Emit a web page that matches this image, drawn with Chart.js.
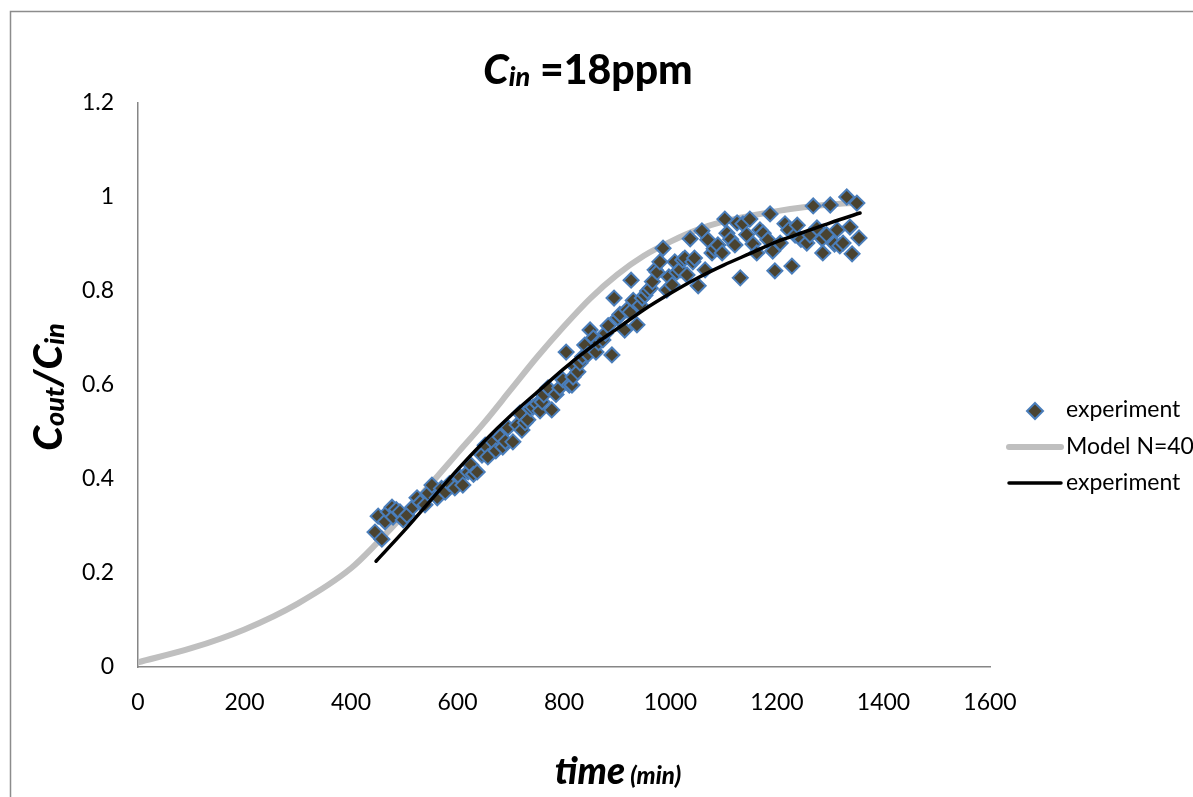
<!DOCTYPE html>
<html>
<head>
<meta charset="utf-8">
<script src="https://cdn.jsdelivr.net/npm/chart.js@4"></script>
<style>
  html, body { margin: 0; padding: 0; background: #fff; }
  #wrap { width: 1193px; height: 797px; }
</style>
</head>
<body>
<div id="wrap"><canvas id="breakthrough-chart"></canvas></div>
<script>
// measured points (time in min, Cout/Cin)
const expTime = [445, 451, 458, 464, 470, 477, 479, 485, 492, 498, 505, 516, 524, 530, 539, 545, 552, 562, 570, 577, 585, 595, 605, 610, 620, 625, 630, 637, 646, 652, 657, 667, 672, 680, 685, 690, 695, 704, 712, 717, 721, 727, 732, 737, 742, 750, 755, 759, 762, 770, 777, 785, 792, 798, 804, 810, 815, 817, 820, 826, 830, 835, 839, 845, 849, 855, 860, 865, 873, 878, 883, 890, 894, 901, 905, 914, 918, 924, 926, 930, 937, 943, 947, 952, 957, 962, 966, 971, 975, 980, 986, 993, 997, 1003, 1008, 1012, 1018, 1023, 1027, 1031, 1037, 1042, 1045, 1052, 1059, 1065, 1070, 1078, 1082, 1089, 1097, 1102, 1106, 1113, 1121, 1125, 1131, 1136, 1143, 1149, 1155, 1162, 1168, 1174, 1183, 1187, 1192, 1196, 1206, 1215, 1222, 1228, 1234, 1238, 1245, 1256, 1262, 1268, 1275, 1285, 1286, 1293, 1300, 1308, 1313, 1318, 1324, 1331, 1337, 1341, 1350, 1354]
const expValue = [0.287, 0.321, 0.272, 0.309, 0.330, 0.340, 0.319, 0.335, 0.330, 0.313, 0.323, 0.340, 0.360, 0.350, 0.345, 0.370, 0.387, 0.360, 0.380, 0.372, 0.390, 0.381, 0.404, 0.387, 0.415, 0.430, 0.410, 0.415, 0.451, 0.472, 0.447, 0.479, 0.460, 0.490, 0.468, 0.480, 0.509, 0.479, 0.515, 0.540, 0.504, 0.520, 0.526, 0.550, 0.553, 0.560, 0.545, 0.564, 0.579, 0.594, 0.547, 0.580, 0.594, 0.611, 0.670, 0.600, 0.600, 0.617, 0.640, 0.628, 0.647, 0.660, 0.685, 0.665, 0.717, 0.700, 0.670, 0.690, 0.696, 0.710, 0.726, 0.664, 0.785, 0.743, 0.750, 0.717, 0.760, 0.755, 0.823, 0.780, 0.728, 0.770, 0.785, 0.791, 0.800, 0.806, 0.820, 0.845, 0.840, 0.862, 0.891, 0.802, 0.830, 0.813, 0.862, 0.840, 0.845, 0.866, 0.870, 0.834, 0.911, 0.862, 0.870, 0.811, 0.928, 0.845, 0.909, 0.881, 0.890, 0.898, 0.881, 0.953, 0.923, 0.910, 0.898, 0.945, 0.828, 0.943, 0.920, 0.953, 0.900, 0.881, 0.930, 0.923, 0.909, 0.964, 0.885, 0.843, 0.902, 0.943, 0.930, 0.853, 0.919, 0.940, 0.910, 0.902, 0.919, 0.981, 0.934, 0.911, 0.881, 0.920, 0.983, 0.900, 0.930, 0.896, 0.902, 1.000, 0.936, 0.879, 0.987, 0.913]

// model curve N=40
const modelTime = [0, 100, 200, 300, 400, 450, 500, 550, 600, 650, 700, 750, 800, 850, 900, 950, 1000, 1050, 1100, 1150, 1200, 1250, 1300, 1350]
const modelValue = [0.01, 0.04, 0.08, 0.135, 0.21, 0.265, 0.325, 0.39, 0.455, 0.52, 0.59, 0.66, 0.725, 0.785, 0.835, 0.875, 0.905, 0.93, 0.948, 0.96, 0.97, 0.978, 0.984, 0.988]

// fitted line through the experiment
const fitTime = [447, 500, 550, 600, 650, 700, 750, 800, 850, 900, 950, 1000, 1050, 1100, 1150, 1200, 1250, 1300, 1356]
const fitValue = [0.225, 0.29, 0.355, 0.42, 0.48, 0.535, 0.585, 0.635, 0.68, 0.72, 0.76, 0.795, 0.827, 0.855, 0.88, 0.905, 0.925, 0.945, 0.966]

const legendLabels = ["experiment", "Model N=40", "experiment"]

const toXY = (xs, ys) => xs.map((x, i) => ({ x: x, y: ys[i] }))

const FONT = "Lato"

function drawMixed(ctx, parts, x, y, align) {
    // parts: [text, size, style, dy]
    let total = 0
    parts.forEach(p => {
        ctx.font = p[2] + " " + p[1] + "px " + FONT
        total += ctx.measureText(p[0]).width
    })
    let cx = align === "center" ? x - total / 2 : x
    parts.forEach(p => {
        ctx.font = p[2] + " " + p[1] + "px " + FONT
        ctx.fillText(p[0], cx, y + (p[3] || 0))
        cx += ctx.measureText(p[0]).width
    })
}

const decorPlugin = {
    id: "decor",
    afterDraw(chart) {
        const ctx = chart.ctx
        ctx.save()
        // chart frame
        ctx.strokeStyle = "#8c8c8c"
        ctx.lineWidth = 1.5
        ctx.strokeRect(10.5, 11.5, 1300, 900)

        ctx.fillStyle = "#000"
        ctx.textBaseline = "alphabetic"
        // title
        drawMixed(ctx, [
            ["C", 41, "italic 900", 0],
            ["in", 27, "italic 900", 2],
            [" =18ppm", 41, "900", 0]
        ], 588, 84, "center")

        // x title
        drawMixed(ctx, [
            ["time", 37, "italic 900", 0],
            [" (min)", 24, "italic 900", 0]
        ], 618, 784, "center")

        // y title
        ctx.translate(62, 387)
        ctx.rotate(-Math.PI / 2)
        drawMixed(ctx, [
            ["C", 40, "italic 900", 0],
            ["out", 27, "italic 900", 2],
            ["/C", 40, "italic 900", 0],
            ["in", 27, "italic 900", 2]
        ], 0, 0, "center")
        ctx.setTransform(1, 0, 0, 1, 0, 0)

        // legend
        ctx.font = "23px " + FONT
        ctx.textBaseline = "middle"
        // diamond marker
        ctx.beginPath()
        ctx.moveTo(1035, 403)
        ctx.lineTo(1043, 411)
        ctx.lineTo(1035, 419)
        ctx.lineTo(1027, 411)
        ctx.closePath()
        ctx.fillStyle = "#4a4330"
        ctx.fill()
        ctx.strokeStyle = "#4a7ebb"
        ctx.lineWidth = 2
        ctx.stroke()
        ctx.fillStyle = "#000"
        ctx.fillText(legendLabels[0], 1066, 410)

        ctx.strokeStyle = "#bfbfbf"
        ctx.lineWidth = 6
        ctx.lineCap = "round"
        ctx.beginPath(); ctx.moveTo(1009, 447); ctx.lineTo(1061, 447); ctx.stroke()
        ctx.fillText(legendLabels[1], 1066, 447)

        ctx.strokeStyle = "#000"
        ctx.lineWidth = 3.5
        ctx.beginPath(); ctx.moveTo(1009, 483); ctx.lineTo(1061, 483); ctx.stroke()
        ctx.fillText(legendLabels[2], 1066, 483)
        ctx.restore()
    }
}

const ctx = document.getElementById("breakthrough-chart")

const MyChart = new Chart(ctx, {
    type: "scatter",
    data: {
        datasets: [{
            label: legendLabels[0],
            data: toXY(expTime, expValue),
            pointStyle: "rectRot",
            pointRadius: 7.5,
            backgroundColor: "#4a4330",
            borderColor: "#4a7ebb",
            borderWidth: 2,
            order: 1
        }, {
            label: legendLabels[1],
            data: toXY(modelTime, modelValue),
            showLine: true,
            borderColor: "#bfbfbf",
            borderWidth: 6,
            pointRadius: 0,
            cubicInterpolationMode: "monotone",
            order: 2
        }, {
            label: legendLabels[2],
            data: toXY(fitTime, fitValue),
            showLine: true,
            borderColor: "#000",
            borderWidth: 3.5,
            borderCapStyle: "round",
            pointRadius: 0,
            cubicInterpolationMode: "monotone",
            order: 0
        }]
    },
    options: {
        responsive: true,
        maintainAspectRatio: false,
        animation: false,
        layout: { padding: { left: 0, top: 103, right: 203, bottom: 0 } },
        plugins: {
            legend: { display: false },
            tooltip: { enabled: false }
        },
        scales: {
            x: {
                min: 0,
                max: 1600,
                ticks: {
                    stepSize: 200, padding: 22, color: "#000",
                    font: { family: FONT, size: 23 },
                    callback: (v) => String(v)
                },
                grid: { display: false, drawTicks: false },
                border: { display: true, color: "#868686", width: 1.5 },
                afterFit: (scale) => { scale.height = 130 }
            },
            y: {
                min: 0,
                max: 1.2,
                ticks: {
                    stepSize: 0.2, padding: 24, color: "#000",
                    font: { family: FONT, size: 23 },
                    callback: (v) => String(+v.toFixed(1))
                },
                grid: { display: false, drawTicks: false },
                border: { display: true, color: "#868686", width: 1.5 },
                afterFit: (scale) => { scale.width = 138 }
            }
        }
    },
    plugins: [decorPlugin]
})
</script>
</body>
</html>
